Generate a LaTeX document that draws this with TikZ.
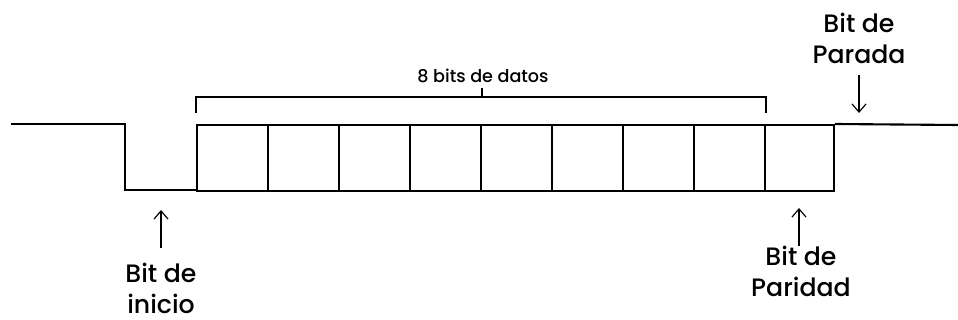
\documentclass[tikz,border=0pt]{standalone}
\usepackage{fontspec}
\setmainfont{Poppins}[UprightFont={* Medium}]
\usetikzlibrary{arrows.meta}
\begin{document}
\begin{tikzpicture}[x=0.03cm, y=-0.03cm,
  sig/.style={line width=1.8pt},
  bitbox/.style={rectangle, draw, line width=1.8pt, inner sep=0pt,
    minimum width=2.13cm, minimum height=1.98cm, anchor=north west},
  brace/.style={line width=1.2pt},
  lbl/.style={font=\fontsize{21.5}{26}\selectfont, align=center, inner sep=0pt, anchor=north},
  ptr/.style={-{Straight Barb[length=7pt, width=12pt]}, line width=1pt},
]
\useasboundingbox (0,0) rectangle (958,320);

% Line before the start bit
\draw[sig] (11,124) -- (125,124) -- (125,190) -- (196,190);

% Data bits and parity bit
\foreach \i in {0,...,7}
  \node[bitbox] (d\i) at (196+71*\i,124) {};
\node[bitbox, minimum width=2.07cm] (par) at (764,124) {};

% Idle line after the stop bit
\draw[sig] (par.north east) -- (958,125);

% Bracket over the data bits
\draw[brace] ([yshift=0.33cm]d0.north west) -- ++(0,-16) -| ([yshift=0.33cm]d7.north east);
\coordinate (mid) at (482,97);
\draw[brace] (mid) -- ++(0,-9);
\node[font=\fontsize{15}{18}\selectfont, inner sep=0pt, anchor=north] (datos) at (483,69) {8 bits de datos};

% Labels
\node[lbl] (inicio) at (161,263) {Bit de\\inicio};
\node[lbl] (paridad) at (801,246) {Bit de\\Paridad};
\node[lbl] (parada) at (859,13) {Bit de\\Parada};

% Pointers
\coordinate (inicioPt) at (161,210);
\coordinate (paridadPt) at (799,208);
\coordinate (paradaPt) at (859,113);
\draw[ptr, shorten <=0.45cm] (inicio.north) -- (inicioPt);
\draw[ptr] (paridad.north -| paridadPt) -- (paridadPt);
\draw[ptr] ([yshift=-1.86cm]parada.north) -- (paradaPt);

\end{tikzpicture}
\end{document}
